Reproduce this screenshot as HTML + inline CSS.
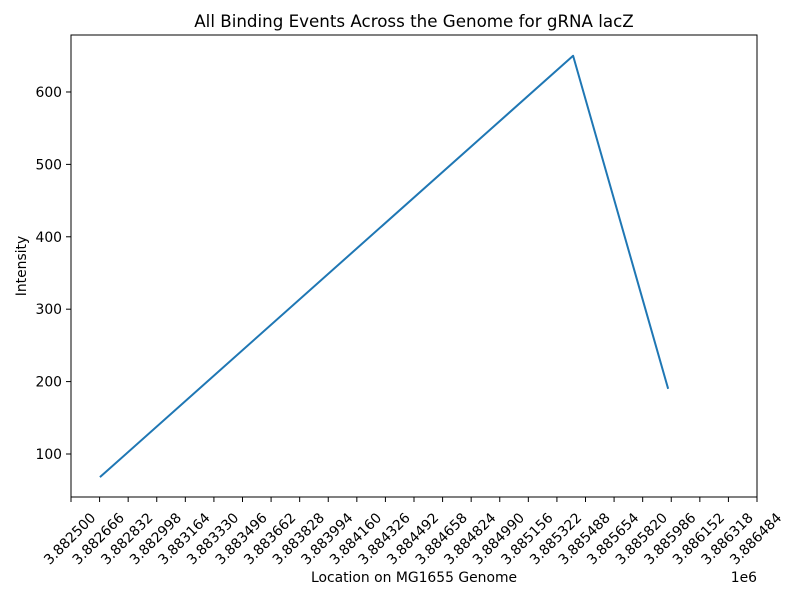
<!DOCTYPE html>
<html><head><meta charset="utf-8"><style>body{margin:0;background:#fff}svg{display:block;font-family:"DejaVu Sans","Liberation Sans",sans-serif}</style></head>
<body>
<svg id="chart" width="800" height="600" xmlns="http://www.w3.org/2000/svg">
<rect width="800" height="600" fill="#fff"/>
<text x="414" y="27" text-anchor="middle" font-size="16.7">All Binding Events Across the Genome for gRNA lacZ</text>
<g id="xt"></g>
<g id="yt"></g>
<polyline id="line" fill="none" stroke="#1f77b4" stroke-width="2" stroke-linejoin="round"/>
<rect x="71" y="35" width="686" height="462" fill="none" stroke="#000" stroke-width="1"/>
<text x="414" y="582" text-anchor="middle" font-size="13.9">Location on MG1655 Genome</text>
<text x="757" y="582" text-anchor="end" font-size="13.9">1e6</text>
<text transform="translate(26,266) rotate(-90)" text-anchor="middle" font-size="13.9">Intensity</text>
</svg>
<script>
const xTicks=[3882500,3882666,3882832,3882998,3883164,3883330,3883496,3883662,3883828,3883994,3884160,3884326,3884492,3884658,3884824,3884990,3885156,3885322,3885488,3885654,3885820,3885986,3886152,3886318,3886484];
const yTicks=[100,200,300,400,500,600];
const locations=[3882668,3885416,3885968];
const intensities=[68,650,190];
const X0=71,X1=757,Y0=497,Y1=35,xmin=3882500,xmax=3886484,ymin=40.6,ymax=678.7;
const sx=v=>X0+(v-xmin)/(xmax-xmin)*(X1-X0);
const sy=v=>Y0-(v-ymin)/(ymax-ymin)*(Y0-Y1);
const NS="http://www.w3.org/2000/svg";
const xt=document.getElementById('xt'),yt=document.getElementById('yt');
xTicks.forEach(t=>{const x=sx(t);
const l=document.createElementNS(NS,'line');


l.setAttribute('x1',x);l.setAttribute('x2',x);l.setAttribute('y1',497);l.setAttribute('y2',502);l.setAttribute('stroke','#000');xt.appendChild(l);
const tx=document.createElementNS(NS,'text');


tx.setAttribute('transform',`translate(${x+2},542) rotate(-45)`);tx.setAttribute('text-anchor','middle');tx.setAttribute('font-size','13.9');
tx.textContent=(t/1e6).toFixed(6);xt.appendChild(tx);});
yTicks.forEach(t=>{const y=sy(t);
const l=document.createElementNS(NS,'line');


l.setAttribute('x1',66);l.setAttribute('x2',71);l.setAttribute('y1',y);l.setAttribute('y2',y);l.setAttribute('stroke','#000');yt.appendChild(l);
const tx=document.createElementNS(NS,'text');


tx.setAttribute('x',62);tx.setAttribute('y',y+5);tx.setAttribute('text-anchor','end');tx.setAttribute('font-size','13.9');
tx.textContent=t;yt.appendChild(tx);});
document.getElementById('line').setAttribute('points',locations.map((v,i)=>sx(v)+','+sy(intensities[i])).join(' '));
</script>
</body></html>
